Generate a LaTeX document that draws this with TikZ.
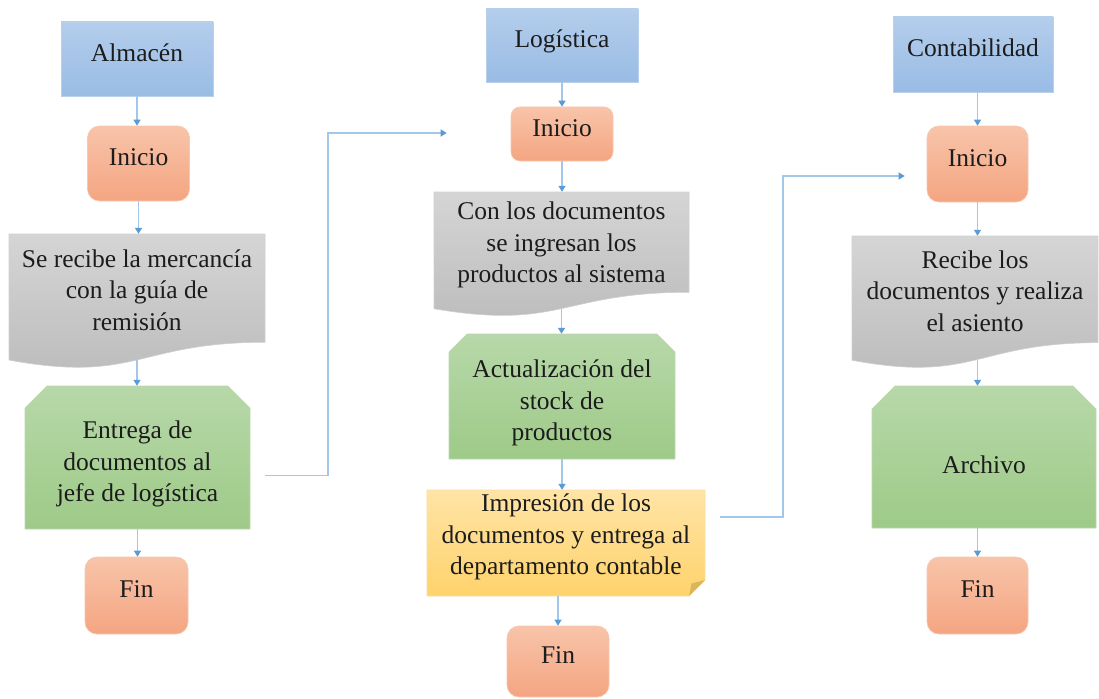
\documentclass[tikz,border=0pt]{standalone}
\usepackage{fontspec}
\setmainfont{LiberationSerif}[Extension=.ttf, UprightFont=*-Regular, BoldFont=*-Bold]
\usetikzlibrary{arrows.meta,calc}
\definecolor{bluetop}{HTML}{B4CDEB}
\definecolor{bluebot}{HTML}{99BCE5}
\definecolor{blueedge}{HTML}{B9D0EC}
\definecolor{orgtop}{HTML}{F8C4A9}
\definecolor{orgbot}{HTML}{F4A582}
\definecolor{orgedge}{HTML}{F7C7AE}
\definecolor{graytop}{HTML}{D5D5D5}
\definecolor{graybot}{HTML}{BBBBBB}
\definecolor{grayedge}{HTML}{D0D0D0}
\definecolor{greentop}{HTML}{B7D8A9}
\definecolor{greenbot}{HTML}{9ECA88}
\definecolor{greenedge}{HTML}{BCDAB0}
\definecolor{yeltop}{HTML}{FFE4A6}
\definecolor{yelbot}{HTML}{FFD36C}
\definecolor{yeledge}{HTML}{FCDFA0}
\definecolor{foldcol}{HTML}{D8B65E}
\definecolor{linecol}{HTML}{A3C7EA}
\definecolor{arrowcol}{HTML}{5B9BD5}
\definecolor{textcol}{HTML}{1C1C1C}
\newcommand\bxfont{\fontsize{25.5}{31.5}\selectfont}
% document shape: x1, x2, ytop, h
\newcommand\DocShape[4]{%
  \shade[top color=graytop, bottom color=graybot, draw=grayedge, line width=0.6pt]
    (#1,#3) -- (#2,#3) -- (#2,{#3+0.802*#4})
    .. controls ({(#1+#2)/2},{#3+0.802*#4}) and ({(#1+#2)/2},{#3+1.107*#4}) ..
    (#1,{#3+0.934*#4}) -- cycle;}
% snipped top corners: x1, x2, y1, y2, d
\newcommand\SnipShape[5]{%
  \shade[top color=greentop, bottom color=greenbot, draw=greenedge, line width=0.6pt]
    (#1,{#3+#5}) -- ({#1+#5},#3) -- ({#2-#5},#3) -- (#2,{#3+#5}) -- (#2,#4) -- (#1,#4) -- cycle;}
\begin{document}
\begin{tikzpicture}[x=1pt,y=-1pt,
  hdr/.style={rectangle, inner sep=0pt, top color=bluetop, bottom color=bluebot,
    draw=blueedge, line width=0.6pt, font=\bxfont, text=textcol,
    text height=0.68em, text depth=0.22em},
  term/.style={rectangle, rounded corners=12pt, inner sep=0pt, top color=orgtop,
    bottom color=orgbot, draw=orgedge, line width=0.6pt, font=\bxfont, text=textcol,
    text height=0.68em, text depth=0.22em},
  hidden/.style={rectangle, inner sep=0pt, draw=none},
  txt/.style={inner sep=0pt, align=center, font=\bxfont, text=textcol},
  conn/.style={draw=linecol, line width=1.3pt,
    -{Triangle[length=6pt,width=7pt,color=arrowcol]}}]
\useasboundingbox (0,0) rectangle (1099,698);
\fill[white] (0,0) rectangle (1099,698);

% ---------- Almacén column ----------
\node[hdr, minimum width=152pt, minimum height=74pt] (alm) at (137,59) {Almacén};
\node[term, minimum width=102pt, minimum height=75pt] (ini1) at (138.5,163.5) {Inicio};
\DocShape{9}{265}{234}{135}
\node[hidden, minimum width=256pt, minimum height=126pt] (doc1) at (137,297) {};
\node[txt] (doc1t) at (137,290) {Se recibe la mercancía\\con la guía de\\remisión};
\SnipShape{25}{250}{386}{529}{22}
\node[hidden, minimum width=225pt, minimum height=143pt] (g1) at (137.5,457.5) {};
\node[txt] (g1t) at (137.5,464) {Entrega de\\documentos al\\jefe de logística};
\node[term, minimum width=103pt, minimum height=77pt] (fin1) at (136.5,595.5) {Fin};

% ---------- Logística column ----------
\node[hdr, minimum width=152pt, minimum height=73pt] (log) at (562,45.5) {Logística};
\node[term, rounded corners=9pt, minimum width=102pt, minimum height=54pt] (ini2) at (562,134) {Inicio};
\DocShape{434}{689}{192}{125}
\node[hidden, minimum width=255pt, minimum height=116.6pt] (doc2) at (561.5,250.3) {};
\node[txt] (doc2t) at (561.5,245) {Con los documentos\\se ingresan los\\productos al sistema};
\SnipShape{449}{675}{334}{459}{18}
\node[hidden, minimum width=226pt, minimum height=125pt] (g2) at (562,396.5) {};
\node[txt] (g2t) at (562,403) {Actualización del\\stock de\\productos};
\shade[top color=yeltop, bottom color=yelbot, draw=yeledge, line width=0.6pt]
  (427,490) -- (705,490) -- (705,580) -- (689,596) -- (427,596) -- cycle;
\fill[foldcol] (689,596) -- (705,580) -- (691.5,583.5) -- cycle;
\node[hidden, minimum width=278pt, minimum height=106pt] (y1) at (566,543) {};
\node[txt] (y1t) at (566,537) {Impresión de los\\documentos y entrega al\\departamento contable};
\node[term, minimum width=102pt, minimum height=71pt] (fin2) at (558,661.5) {Fin};

% ---------- Contabilidad column ----------
\node[hdr, minimum width=160pt, minimum height=75pt] (cont) at (973,54.5) {Contabilidad};
\node[term, minimum width=101pt, minimum height=76pt] (ini3) at (977.5,164) {Inicio};
\DocShape{852}{1098}{236}{133}
\node[hidden, minimum width=246pt, minimum height=124pt] (doc3) at (975,298) {};
\node[txt] (doc3t) at (975,291) {Recibe los\\documentos y realiza\\el asiento};
\SnipShape{872}{1096}{386}{528}{23}
\node[hidden, minimum width=224pt, minimum height=142pt] (g3) at (984,457) {};
\node[txt] (g3t) at (984,465) {Archivo};
\node[term, minimum width=101pt, minimum height=77pt] (fin3) at (977.5,595.5) {Fin};

% ---------- vertical connectors ----------
\draw[conn] (alm.south) -- (alm.south |- ini1.north);
\draw[conn] (ini1.south) -- (ini1.south |- doc1.north);
\draw[conn] (doc1.south) -- (doc1.south |- g1.north);
\draw[conn] (g1.south) -- (g1.south |- fin1.north);

\draw[conn] (log.south) -- (log.south |- ini2.north);
\draw[conn] (ini2.south) -- (ini2.south |- doc2.north);
\draw[conn] (doc2.south) -- (doc2.south |- g2.north);
\draw[conn] (g2.south) -- (g2.south |- y1.north);
\draw[conn] (y1.south -| fin2.north) -- (fin2.north);

\draw[conn] (cont.south -| ini3.north) -- (ini3.north);
\draw[conn] (ini3.south) -- (ini3.south |- doc3.north);
\draw[conn] (doc3.south -| ini3.south) -- (ini3.south |- g3.north);
\draw[conn] (g3.south -| fin3.north) -- (fin3.north);

% ---------- cross-column connectors ----------
\coordinate (l1a) at ([xshift=15pt,yshift=-18pt]g1.east);
\coordinate (l1b) at ([xshift=-64pt,yshift=1pt]ini2.west);
\draw[conn] (l1a) -- (328,475.5) |- (l1b);
\coordinate (l2a) at ([xshift=15pt,yshift=26pt]y1.east);
\coordinate (l2b) at ([xshift=-22pt,yshift=-12pt]ini3.west);
\draw[conn] (l2a) -- (783,517) |- (l2b);
\end{tikzpicture}
\end{document}
